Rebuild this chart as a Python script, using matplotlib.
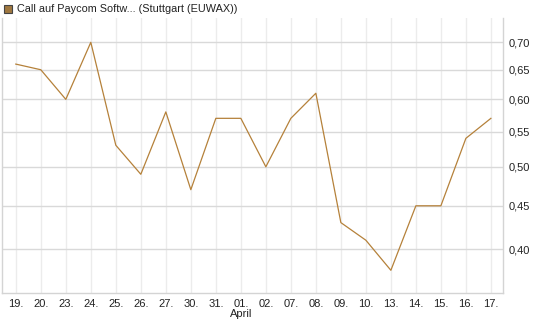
import numpy as np
import matplotlib.pyplot as plt
from matplotlib.ticker import FixedLocator, NullLocator
from matplotlib.patches import Rectangle

plt.rcParams['font.family'] = ['Liberation Sans', 'DejaVu Sans']

dates = ['19.', '20.', '23.', '24.', '25.', '26.', '27.', '30.', '31.', '01.',
         '02.', '07.', '08.', '09.', '10.', '13.', '14.', '15.', '16.', '17.']
prices = [0.66, 0.65, 0.60, 0.70, 0.53, 0.49, 0.58, 0.47, 0.57, 0.57,
          0.50, 0.57, 0.61, 0.43, 0.41, 0.378, 0.45, 0.45, 0.54, 0.57]
yticks = [0.40, 0.45, 0.50, 0.55, 0.60, 0.65, 0.70]
title = 'Call auf Paycom Softw... (Stuttgart (EUWAX))'
line_color = '#b5813a'

fig = plt.figure(figsize=(5.45, 3.27), dpi=100)
ax = fig.add_axes([0.0042, 0.104, 0.919, 0.841])

x = np.arange(len(dates))
ax.plot(x, prices, color=line_color, lw=0.9)

ax.set_yscale('log')
ax.set_ylim(0.3555, 0.7476)
ax.set_xlim(-0.54, len(dates) - 0.51)
ax.yaxis.set_major_locator(FixedLocator(yticks))
ax.yaxis.set_minor_locator(NullLocator())
ax.set_yticklabels([f'{v:.2f}'.replace('.', ',') for v in yticks])
ax.yaxis.tick_right()
ax.set_xticks(x)
ax.set_xticklabels(dates)

ax.tick_params(axis='both', length=0, labelsize=8, colors='#222222')
ax.tick_params(axis='y', pad=4)
ax.tick_params(axis='x', pad=4)

ax.grid(axis='y', color='#d9d9d9', lw=1.0)
ax.grid(axis='x', color='#ececec', lw=1.0)
ax.set_axisbelow(True)

for side in ['left', 'right', 'bottom']:
    ax.spines[side].set_color('#d4d4d4')
    ax.spines[side].set_linewidth(1.0)
ax.spines['top'].set_visible(False)

ax.text(9, -0.06, 'April', transform=ax.get_xaxis_transform(),
        ha='center', va='top', fontsize=8, color='#222222')

fig.patches.append(Rectangle((4 / 545, 1 - 13 / 327), 8 / 545, 8 / 327,
                             transform=fig.transFigure, facecolor='#a07840',
                             edgecolor='#444444', lw=0.8))
fig.text(17 / 545, 1 - 8.5 / 327, title, ha='left', va='center',
         fontsize=7.8, color='#222222')

fig.savefig('out.png', dpi=100)
